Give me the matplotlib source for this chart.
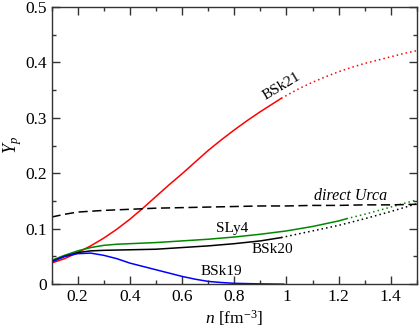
import matplotlib
matplotlib.use("Agg")
from matplotlib import pyplot as plt
from matplotlib.ticker import MultipleLocator

plt.rcParams["font.family"] = ["Liberation Serif", "DejaVu Serif"]
plt.rcParams["mathtext.fontset"] = "custom"
plt.rcParams["mathtext.rm"] = "Liberation Serif"
plt.rcParams["mathtext.it"] = "Liberation Serif:italic"

# BSk21 (red)
bsk21_x = [0.10, 0.15, 0.20, 0.25, 0.30, 0.35, 0.40, 0.45, 0.50, 0.55, 0.60,
           0.65, 0.70, 0.75, 0.80, 0.85, 0.90, 0.95, 0.98]
bsk21_y = [0.038, 0.046, 0.057, 0.069, 0.083, 0.099, 0.117, 0.137, 0.158, 0.179,
           0.199, 0.220, 0.241, 0.260, 0.278, 0.295, 0.311, 0.326, 0.335]
bsk21_dot_x = [0.98, 1.05, 1.10, 1.15, 1.20, 1.25, 1.30, 1.35, 1.40, 1.45, 1.50]
bsk21_dot_y = [0.335, 0.353, 0.364, 0.374, 0.383, 0.391, 0.398, 0.404, 0.410, 0.416, 0.421]

# SLy4 (green)
sly4_x = [0.10, 0.15, 0.20, 0.25, 0.30, 0.35, 0.40, 0.50, 0.60, 0.70, 0.80,
          0.90, 1.00, 1.10, 1.20, 1.23]
sly4_y = [0.043, 0.052, 0.060, 0.066, 0.070, 0.072, 0.073, 0.075, 0.078, 0.081,
          0.085, 0.090, 0.096, 0.104, 0.114, 0.118]
sly4_dot_x = [1.23, 1.30, 1.40, 1.50]
sly4_dot_y = [0.118, 0.126, 0.139, 0.152]

# BSk20 (black)
bsk20_x = [0.10, 0.15, 0.20, 0.25, 0.30, 0.40, 0.50, 0.60, 0.70, 0.80, 0.90, 0.98]
bsk20_y = [0.041, 0.050, 0.057, 0.060, 0.061, 0.062, 0.063, 0.066, 0.069, 0.073,
           0.078, 0.084]
bsk20_dot_x = [0.98, 1.10, 1.20, 1.30, 1.40, 1.50]
bsk20_dot_y = [0.084, 0.096, 0.106, 0.118, 0.131, 0.145]

# BSk19 (blue)
bsk19_x = [0.10, 0.15, 0.20, 0.25, 0.30, 0.35, 0.40, 0.45, 0.50, 0.55, 0.60,
           0.65, 0.70, 0.75, 0.80, 0.90, 0.99]
bsk19_y = [0.040, 0.050, 0.055, 0.056, 0.052, 0.046, 0.038, 0.032, 0.026, 0.020,
           0.014, 0.009, 0.005, 0.003, 0.0015, 0.0005, 0.0]

# direct Urca threshold
durca_x = [0.10, 0.15, 0.20, 0.30, 0.40, 0.50, 0.60, 0.70, 0.80, 0.90, 1.00,
           1.10, 1.20, 1.30, 1.40, 1.50]
durca_y = [0.121, 0.126, 0.130, 0.133, 0.135, 0.137, 0.138, 0.139, 0.140, 0.141,
           0.141, 0.142, 0.142, 0.143, 0.143, 0.144]

xticks = [0.2, 0.4, 0.6, 0.8, 1.0, 1.2, 1.4]
xtick_labels = ["0.2", "0.4", "0.6", "0.8", "1", "1.2", "1.4"]
yticks = [0.0, 0.1, 0.2, 0.3, 0.4, 0.5]
ytick_labels = ["0", "0.1", "0.2", "0.3", "0.4", "0.5"]

fig = plt.figure(figsize=(4.19, 3.27), dpi=100)
ax = fig.add_axes([0.123, 0.131, 0.872, 0.848])

lw = 1.1
ax.plot(bsk21_x, bsk21_y, color="#ff0000", lw=lw)
ax.plot(bsk21_dot_x, bsk21_dot_y, color="#ff0000", lw=lw, linestyle=(0, (1, 2)))
ax.plot(sly4_x, sly4_y, color="#008800", lw=lw)
ax.plot(sly4_dot_x, sly4_dot_y, color="#008800", lw=lw, linestyle=(0, (1, 2)))
ax.plot(bsk20_x, bsk20_y, color="black", lw=lw)
ax.plot(bsk20_dot_x, bsk20_dot_y, color="black", lw=lw, linestyle=(0, (1, 2)))
ax.plot(bsk19_x, bsk19_y, color="#0000ff", lw=lw)
ax.plot(durca_x, durca_y, color="black", lw=lw, linestyle=(0, (6, 3)))

ax.text(0.983, 0.356, "BSk21", fontsize=11, rotation=31, ha="center", va="center")
ax.text(1.247, 0.159, "direct Urca", fontsize=11.5, style="italic", ha="center", va="center")
ax.text(0.793, 0.0995, "SLy4", fontsize=11, ha="center", va="center")
ax.text(0.946, 0.063, "BSk20", fontsize=11, ha="center", va="center")
ax.text(0.749, 0.0235, "BSk19", fontsize=11, ha="center", va="center")

ax.set_xlim(0.1, 1.5)
ax.set_ylim(0, 0.5)
ax.set_xticks(xticks, xtick_labels)
ax.set_yticks(yticks, ytick_labels)
ax.xaxis.set_minor_locator(MultipleLocator(0.1))
ax.yaxis.set_minor_locator(MultipleLocator(0.05))
ax.tick_params(which="both", direction="in", top=True, right=True, labelsize=12.5,
               color="#333333", width=1.0)
ax.tick_params(which="major", length=5.5)
ax.tick_params(which="minor", length=3)
for s in ax.spines.values():
    s.set_linewidth(1.0)
    s.set_color("#333333")

ax.set_xlabel("$n$ [fm$^{-3}$]", fontsize=12.5, labelpad=2)
ax.set_ylabel("$Y_p$", fontsize=13, labelpad=1)

fig.savefig("out.png", dpi=100)
